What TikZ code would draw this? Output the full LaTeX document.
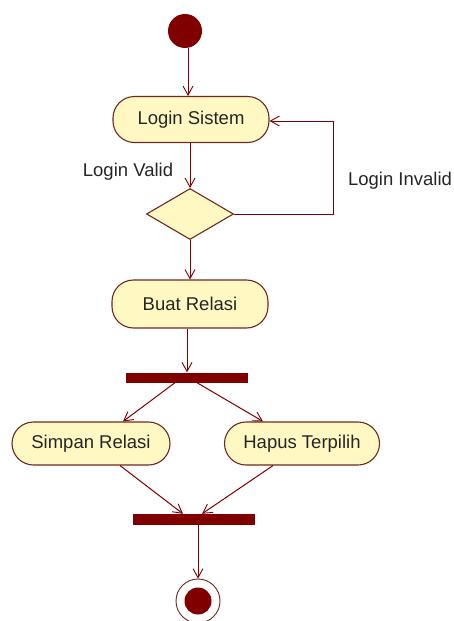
\documentclass[tikz,border=0pt]{standalone}
\usepackage{fontspec}
\setmainfont{Liberation Sans}
\usetikzlibrary{shapes.geometric,arrows.meta}
\definecolor{umlred}{HTML}{800000}
\definecolor{umlfill}{HTML}{FFF8C2}
\definecolor{umlborder}{HTML}{6E2A22}
\tikzset{
  action/.style={draw=umlborder, line width=1.1pt, fill=umlfill, rounded corners=21.5pt,
    minimum height=#1, inner sep=0pt, font=\fontsize{18.5}{20}\selectfont, text=black!85},
  action/.default=46pt,
  bar/.style={fill=umlred, draw=none, inner sep=0pt},
  flow/.style={draw=umlred, line width=1pt, -{Straight Barb[length=9pt,width=10pt,line width=0.9pt]}},
  lbl/.style={font=\fontsize{18.5}{20}\selectfont, text=black!85, inner sep=0pt}
}
\begin{document}
\begin{tikzpicture}[x=1pt,y=-1pt]
\useasboundingbox[fill=white] (0,0) rectangle (453,621);
\node[circle, fill=umlred, minimum size=34pt, inner sep=0pt] (start) at (185,31) {};
\node[action, minimum width=156pt] (login) at (191,119.5) {Login Sistem};
\node[diamond, draw=umlborder, line width=1.1pt, fill=umlfill, minimum width=87pt, minimum height=51pt, inner sep=0pt] (dec) at (190,214) {};
\node[lbl] (lv) at (128,172) {Login Valid};
\node[lbl] (li) at (400,181) {Login Invalid};
\node[action, minimum width=156pt, minimum height=48pt] (buat) at (190,304) {Buat Relasi};
\node[bar, minimum width=122pt, minimum height=10pt] (fork) at (187,377.5) {};
\node[action=43pt, minimum width=158pt] (simpan) at (91,443.5) {Simpan Relasi};
\node[action=43pt, minimum width=155pt] (hapus) at (302,443.5) {Hapus Terpilih};
\node[bar, minimum width=122pt, minimum height=11pt] (join) at (194,519.5) {};
\node[circle, draw=umlborder, line width=0.9pt, fill=white, minimum size=44pt, inner sep=0pt] (end) at (198,601) {};
\node[circle, fill=umlred, minimum size=27pt, inner sep=0pt] (endin) at (end.center) {};
\coordinate (loopc) at (333,121);
\draw[flow] ([xshift=3pt]start.south) -- ([xshift=3pt]start.south |- login.north);
\draw[flow] (dec.north |- login.south) -- (dec.north);
\draw[flow] (dec.east) -| (loopc) -- (login.east |- loopc);
\draw[flow] (dec.south) -- (dec.south |- buat.north);
\draw[flow] (fork.north |- buat.south) -- (fork.north);
\draw[flow] ([xshift=-12pt]fork.south) -- ([xshift=32pt]simpan.north);
\draw[flow] ([xshift=10pt]fork.south) -- ([xshift=-39pt]hapus.north);
\draw[flow] ([xshift=29pt]simpan.south) -- ([xshift=-11pt]join.north);
\draw[flow] ([xshift=-29pt]hapus.south) -- ([xshift=8pt]join.north);
\draw[flow] (end.north |- join.south) -- (end.north);
\end{tikzpicture}
\end{document}
